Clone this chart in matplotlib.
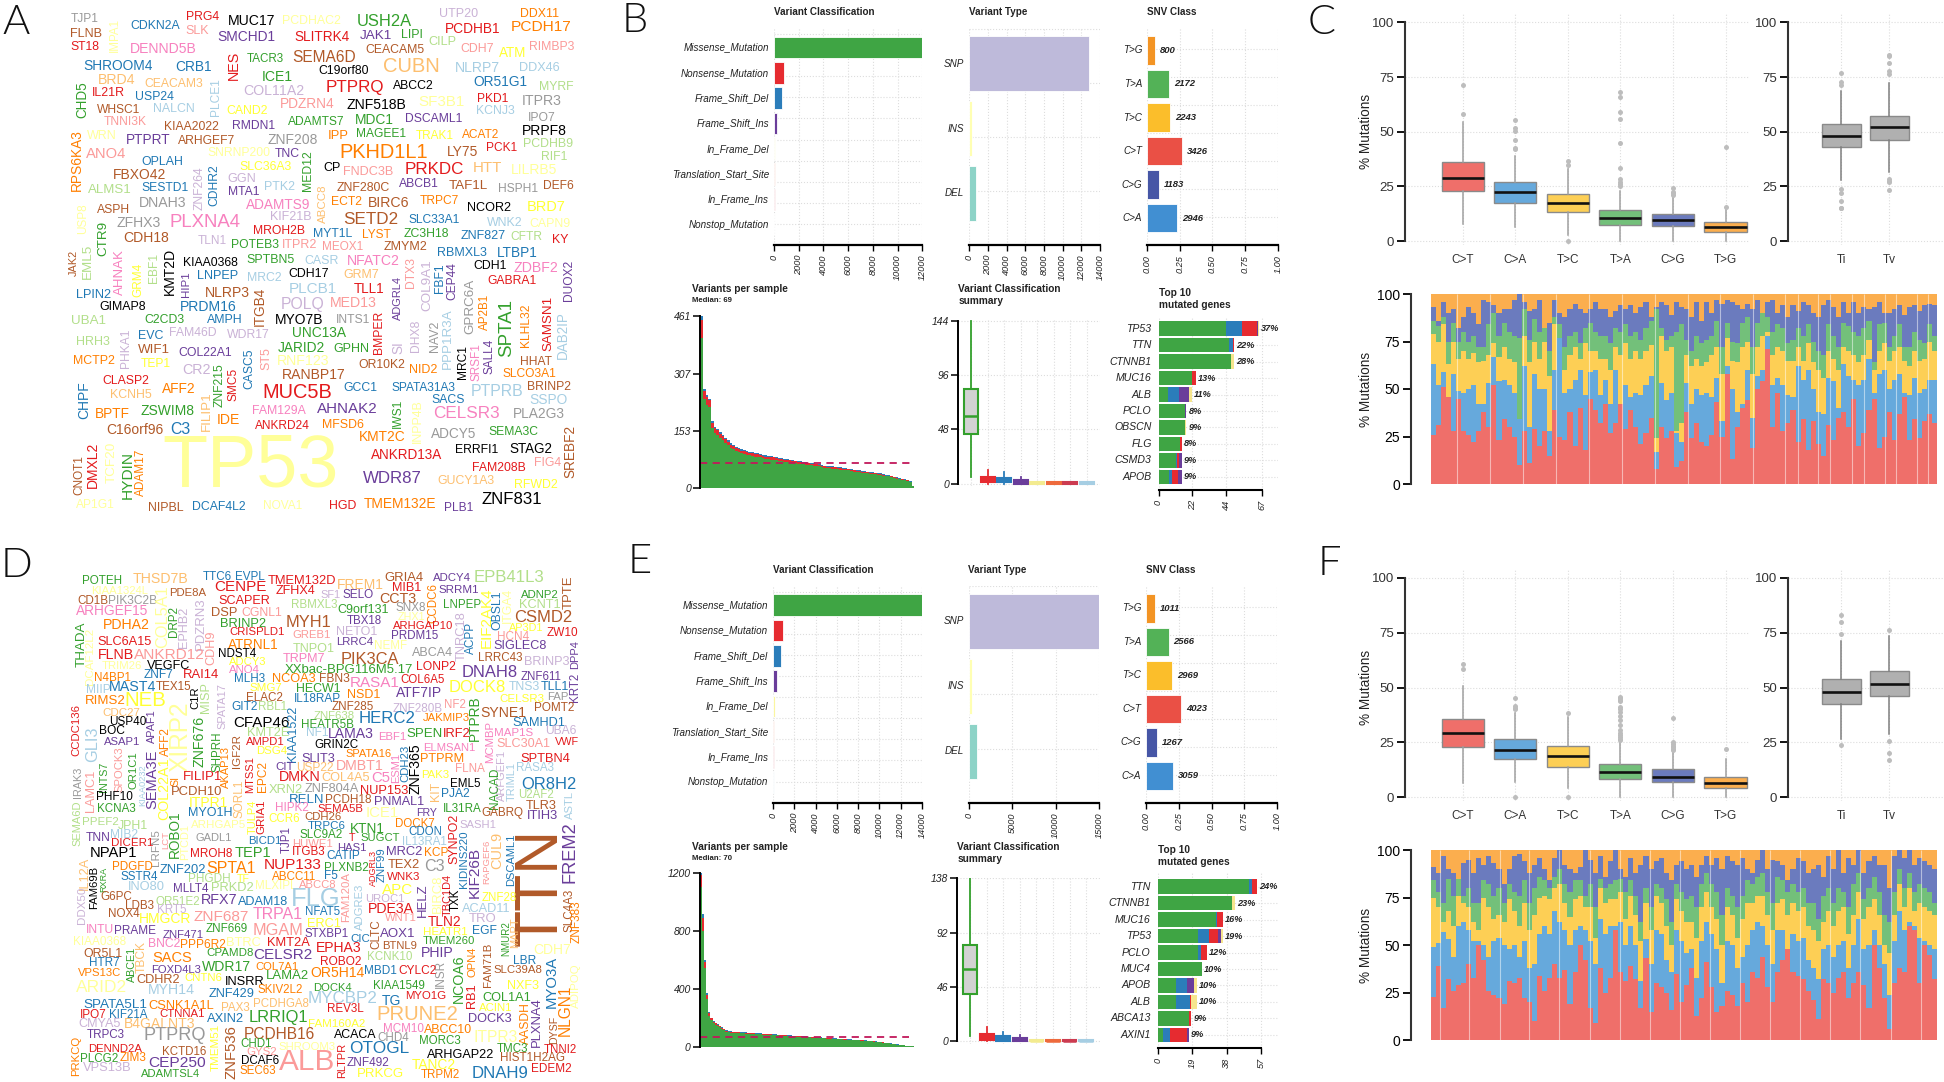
import numpy as np
import matplotlib
matplotlib.use("Agg")
import matplotlib.pyplot as plt
from matplotlib.font_manager import FontProperties
from matplotlib.textpath import TextPath

plt.rcParams["font.family"] = ["Liberation Sans", "DejaVu Sans"]
WIDTH, HEIGHT = 1944, 1082
NARROW = ["Liberation Sans Narrow", "Liberation Sans"]

CLOUD_X = 1568 / 600
MAF_X = 1568 / 680
TITV_X = 1568 / 644

# ---------- word clouds ----------
WORD_COLOURS = {
    "a": "#A6CEE3", "b": "#1F78B4", "c": "#B2DF8A", "d": "#33A02C", "e": "#FB9A99", "f": "#E31A1C",
    "g": "#FDBF6F", "h": "#FF7F00", "i": "#CAB2D6", "j": "#6A3D9A", "k": "#FFFF99", "l": "#B15928",
    "m": "#F781BF", "n": "#999999", "o": "#000000", "p": "#FFFF33",
}

CLOUD_A_GENES = [
    "TJP1", "FLNB", "ST18", "IMPA1", "CDKN2A", "PRG4", "SLK", "MUC17", "SMCHD1", "DENND5B",
    "PCDHAC2", "USH2A", "SLITRK4", "JAK1", "LIPI", "CILP", "UTP20", "PCDHB1", "DDX11", "PCDH17",
    "CDH7", "ATM", "RIMBP3", "NES", "TACR3", "SEMA6D", "CEACAM5", "CUBN", "SHROOM4", "CRB1",
    "C19orf80", "NLRP7", "DDX46", "ICE1", "BRD4", "CEACAM3", "PLCE1", "CHD5", "COL11A2", "PTPRQ",
    "ABCC2", "OR51G1", "MYRF", "IL21R", "USP24", "PDZRN4", "ZNF518B", "SF3B1", "PKD1", "ITPR3",
    "KCNJ3", "WHSC1", "NALCN", "CAND2", "MDC1", "ADAMTS7", "DSCAML1", "IPO7", "TNNI3K", "KIAA2022",
    "RMDN1", "PRPF8", "WRN", "RPS6KA3", "PTPRT", "ARHGEF7", "ZNF208", "IPP", "MAGEE1", "TRAK1",
    "ACAT2", "PCDHB9", "PCK1", "LY75", "PKHD1L1", "ANO4", "OPLAH", "SNRNP200", "TNC", "RIF1",
    "MED12", "HTT", "LILRB5", "CP", "FNDC3B", "PRKDC", "SLC36A3", "CDHR2", "ZNF264", "FBXO42",
    "GGN", "ABCB1", "TAF1L", "DEF6", "HSPH1", "SESTD1", "ALMS1", "MTA1", "PTK2", "ZNF280C",
    "ABCC8", "ECT2", "BIRC6", "TRPC7", "DNAH3", "ASPH", "ADAMTS9", "USP8", "NCOR2", "BRD7",
    "KIF21B", "SETD2", "SLC33A1", "ZFHX3", "PLXNA4", "WNK2", "CAPN9", "CTR9", "MROH2B", "MYT1L",
    "LYST", "ZC3H18", "ZNF827", "CFTR", "KY", "CDH18", "TLN1", "POTEB3", "ITPR2", "MEOX1",
    "ZMYM2", "RBMXL3", "LTBP1", "JAK2", "EML5", "AHNAK", "EBF1", "KMT2D", "KIAA0368", "SPTBN5",
    "CASR", "NFATC2", "DTX3", "COL9A1", "FBF1", "CEP44", "CDH1", "ZDBF2", "DUOX2", "GRM4",
    "HIP1", "LNPEP", "MRC2", "CDH17", "GRM7", "ADGRL4", "GABRA1", "NLRP3", "ITGB4", "PLCB1",
    "TLL1", "LPIN2", "POLQ", "MED13", "GPRC6A", "AP2B1", "SPTA1", "SAMSN1", "KLHL32", "GIMAP8",
    "PRDM16", "UBA1", "C2CD3", "AMPH", "MYO7B", "INTS1", "BMPER", "DHX8", "NAV2", "PPP1R3A",
    "DAB2IP", "EVC", "FAM46D", "WDR17", "UNC13A", "HRH3", "PHKA1", "WIF1", "JARID2", "GPHN",
    "SI", "MRC1", "SRSF1", "SALL4", "COL22A1", "CASC5", "ST5", "MCTP2", "TEP1", "RNF123",
    "OR10K2", "NID2", "HHAT", "CR2", "ZNF215", "SMC5", "RANBP17", "SLCO3A1", "CLASP2", "KCNH5",
    "AFF2", "FILIP1", "MUC5B", "GCC1", "SPATA31A3", "PTPRB", "BRINP2", "SACS", "SSPO", "CHPF",
    "BPTF", "ZSWIM8", "IDE", "FAM129A", "AHNAK2", "IWS1", "INPP4B", "CELSR3", "PLA2G3", "C16orf96",
    "C3", "ANKRD24", "MFSD6", "KMT2C", "ADCY5", "SEMA3C", "SREBF2", "TP53", "ERRFI1", "STAG2",
    "ANKRD13A", "CNOT1", "DMXL2", "TCF20", "HYDIN", "ADAM17", "FAM208B", "FIG4", "WDR87", "GUCY1A3",
    "RFWD2", "AP1G1", "NIPBL", "DCAF4L2", "NOVA1", "HGD", "TMEM132E", "PLB1", "ZNF831",
]
# extents of each word: start, end along its direction, then centre across it
CLOUD_A_SPANS = [
    (185, 255, 55), (185, 265, 98), (185, 258, 138), (55, 150, 300), (342, 470, 75), (488, 572, 50), (484, 544, 90), (597, 716, 60), (570, 718, 107), (342, 512, 142),
    (740, 890, 62), (935, 1076, 63), (770, 912, 107), (942, 1024, 105), (1050, 1102, 102), (1120, 1190, 122), (1150, 1248, 42), (1165, 1306, 85), (1360, 1458, 41), (1338, 1492, 80),
    (1205, 1290, 143), (1305, 1374, 156), (1385, 1500, 138), (150, 230, 610), (645, 740, 173), (765, 928, 168), (955, 1107, 147), (1003, 1145, 193), (218, 397, 192), (460, 552, 195),
    (833, 962, 208), (1192, 1305, 199), (1358, 1460, 200), (686, 762, 224), (258, 352, 233), (380, 530, 245), (232, 338, 564), (238, 342, 216), (638, 794, 266), (855, 1002, 255),
    (1028, 1133, 250), (1238, 1376, 240), (1410, 1497, 253), (243, 325, 271), (354, 452, 284), (732, 872, 305), (907, 1060, 307), (1095, 1212, 298), (1248, 1326, 288), (1365, 1465, 296),
    (1246, 1343, 323), (255, 367, 322), (403, 508, 318), (593, 698, 324), (930, 1027, 350), (753, 900, 356), (1060, 1205, 347), (1382, 1450, 344), (271, 382, 357), (430, 568, 370),
    (607, 716, 368), (1365, 1478, 382), (228, 303, 398), (380, 556, 200), (330, 442, 408), (465, 613, 413), (702, 830, 408), (858, 908, 396), (933, 1060, 390), (1087, 1184, 398),
    (1208, 1304, 393), (1368, 1495, 421), (1273, 1350, 431), (1170, 1247, 445), (890, 1115, 444), (226, 330, 450), (372, 478, 472), (545, 706, 448), (720, 784, 450), (1415, 1480, 459),
    (440, 555, 804), (1237, 1310, 491), (1338, 1455, 497), (846, 888, 492), (898, 1025, 503), (1060, 1210, 495), (628, 762, 489), (482, 600, 559), (488, 612, 521), (297, 432, 511),
    (597, 668, 524), (1043, 1145, 537), (1175, 1275, 544), (1422, 1498, 542), (1303, 1404, 553), (372, 492, 548), (230, 342, 555), (597, 675, 560), (693, 770, 547), (880, 1018, 548),
    (540, 650, 845), (867, 944, 590), (964, 1068, 594), (1097, 1198, 587), (365, 485, 593), (254, 338, 612), (644, 810, 598), (596, 682, 216), (1222, 1333, 608), (1380, 1476, 604),
    (708, 813, 635), (900, 1040, 640), (1068, 1200, 642), (305, 418, 651), (445, 626, 650), (1273, 1365, 652), (1385, 1490, 654), (646, 745, 270), (664, 795, 675), (820, 920, 682),
    (948, 1020, 685), (1055, 1172, 683), (1205, 1320, 688), (1335, 1416, 692), (1445, 1485, 702), (323, 440, 694), (518, 592, 703), (607, 728, 716), (740, 828, 716), (843, 947, 721),
    (1003, 1115, 721), (1145, 1272, 740), (1300, 1403, 738), (730, 805, 193), (715, 813, 230), (727, 860, 313), (742, 825, 403), (728, 860, 443), (480, 620, 768), (645, 768, 760),
    (798, 885, 762), (910, 1043, 762), (752, 838, 1075), (758, 905, 1116), (770, 852, 1150), (768, 876, 1182), (1238, 1322, 777), (1343, 1457, 782), (762, 878, 1488), (768, 865, 361),
    (795, 865, 487), (516, 620, 807), (648, 735, 812), (754, 857, 799), (898, 988, 802), (807, 935, 1040), (1275, 1400, 820), (537, 650, 856), (840, 950, 680), (757, 878, 843),
    (926, 1004, 843), (200, 288, 860), (736, 845, 890), (865, 984, 885), (815, 975, 1228), (858, 962, 1268), (876, 1040, 1325), (865, 1022, 1434), (888, 1010, 1375), (260, 379, 896),
    (473, 617, 897), (188, 275, 938), (378, 480, 933), (541, 632, 935), (720, 842, 933), (880, 965, 935), (910, 1032, 990), (935, 1025, 1086), (938, 1025, 1137), (902, 1075, 1170),
    (910, 1045, 1471), (361, 424, 980), (444, 565, 973), (595, 705, 978), (765, 904, 973), (200, 285, 998), (962, 1072, 330), (362, 444, 1021), (727, 849, 1015), (874, 964, 1020),
    (998, 1030, 1040), (1010, 1105, 1210), (1003, 1110, 1245), (992, 1092, 1279), (468, 605, 1032), (1020, 1135, 652), (1015, 1078, 695), (192, 298, 1055), (368, 444, 1063), (726, 859, 1055),
    (938, 1058, 1067), (1072, 1142, 1080), (1362, 1442, 1056), (478, 549, 1080), (1062, 1188, 574), (1075, 1168, 610), (740, 902, 1095), (1313, 1452, 1092), (270, 390, 1113), (288, 394, 1153),
    (424, 510, 1137), (1145, 1255, 541), (690, 866, 1147), (900, 986, 1134), (1023, 1188, 1134), (1232, 1365, 1143), (1380, 1492, 1130), (1130, 1214, 1168), (1386, 1483, 1167), (1115, 1222, 220),
    (250, 337, 1210), (368, 507, 1199), (570, 626, 1226), (661, 799, 1201), (830, 986, 1195), (1167, 1248, 1040), (1168, 1292, 1092), (1134, 1304, 1208), (1342, 1474, 1208), (280, 426, 1255),
    (447, 496, 1255), (667, 810, 1244), (844, 950, 1240), (940, 1057, 1277), (1126, 1243, 1268), (1278, 1406, 1262), (1244, 1395, 1490), (430, 878, 1365), (1190, 1300, 1313), (1332, 1442, 1311),
    (968, 1155, 1330), (1332, 1445, 208), (1292, 1422, 243), (1292, 1410, 291), (1320, 1453, 333), (1312, 1448, 369), (1236, 1373, 1368), (1397, 1465, 1352), (950, 1102, 1397), (1145, 1292, 1405),
    (1345, 1456, 1415), (200, 300, 1475), (388, 478, 1482), (503, 640, 1480), (688, 787, 1478), (862, 930, 1478), (953, 1140, 1473), (1163, 1235, 1482), (1260, 1415, 1460),
]
CLOUD_A_COLOURS = "".join([
    "nlfkbfeojm", "kdfjdcifhh", "epefdllgbb", "oaadggadif", "obcfbeokfn", "alapddjnel",
    "jokhjlnhdp", "hcflhebkjc", "dgkoefpbil", "ijllnbcjal", "ghlhnlmkop", "ilbnmakdfb",
    "hdbcflidee", "lbblcmcood", "ameibjomjp", "jbaogjflla", "fbienhdfho", "bcdbonfina",
    "abiidcildd", "iomjjbehpk", "lhlidflhfg", "hgfbbalbab", "hdhmjdkmnl", "bfhhndlkoo",
    "flfkdhfejg", "pklbkfhjo",
])
CLOUD_A_UPRIGHT = {
    "IMPA1", "NES", "PLCE1", "CHD5", "RPS6KA3", "MED12", "CDHR2", "ZNF264", "ABCC8", "USP8", "CTR9", "JAK2", "EML5",
    "AHNAK", "EBF1", "KMT2D", "DTX3", "COL9A1", "FBF1", "CEP44", "DUOX2", "GRM4", "HIP1", "ADGRL4", "ITGB4", "GPRC6A",
    "AP2B1", "SPTA1", "SAMSN1", "KLHL32", "BMPER", "DHX8", "NAV2", "PPP1R3A", "DAB2IP", "PHKA1", "SI", "MRC1", "SRSF1",
    "SALL4", "CASC5", "ST5", "ZNF215", "SMC5", "FILIP1", "CHPF", "IWS1", "INPP4B", "SREBF2", "CNOT1", "DMXL2", "TCF20",
    "HYDIN", "ADAM17",
}

CLOUD_D_GENES = [
    "POTEH", "THSD7B", "TTC6", "EVPL", "CENPE", "TMEM132D", "FREM1", "GRIA4", "MIB1", "ADCY4",
    "EPB41L3", "TPTE", "KIAA1324L", "PDE8A", "ZFHX4", "SF1", "SELO", "CCDC6", "SRRM1", "CD1B",
    "PIK3C2B", "COL5A1", "SCAPER", "RBMXL3", "CCT3", "LNPEP", "ADNP2", "KCNT1", "ARHGEF15", "DRP2",
    "EPHB2", "PDZRN3", "DSP", "CGNL1", "C9orf131", "SNX8", "OBSL1", "EIF2AK4", "ITGA4", "CSMD2",
    "ZHX1", "TNRC18", "ACPP", "AP3D1", "ZW10", "PDHA2", "BRINP2", "MYH1", "TBX18", "ARHGAP10",
    "CRISPLD1", "GREB1", "NETO1", "PRDM15", "THADA", "DCAF12L2", "CDH9", "SLC6A15", "ATRNL1", "LRRC4",
    "NEMF", "HCN4", "SIGLEC8", "DPP4", "FLNB", "ANKRD12", "NDST4", "TNPO1", "PIK3CA", "ABCA4",
    "ADCY3", "TRPM7", "LONP2", "LRRC43", "BRINP3", "TRIM26", "VEGFC", "XXbac-BPG116M5.17", "DNAH8", "KRT2",
    "N4BP1", "ZNF7", "RAI14", "ANO4", "MLH3", "NCOA3", "FBN3", "RASA1", "COL6A5", "ZNF611",
    "MIIP", "MAST4", "TEX15", "C1R", "MISP", "SPATA17", "SMG7", "HECW1", "NSD1", "ATF7IP",
    "DOCK8", "TNS3", "TLL1", "RIMS2", "NEB", "ELAC2", "IL18RAP", "CELSR3", "FAP", "NF2",
    "GIT2", "RBL1", "ZNF285", "ZNF280B", "JAKMIP3", "PTPRB", "POMT2", "SYNE1", "CCDC136", "CDC27",
    "XIRP2", "APAF1", "USP40", "BOC", "ZNF676", "CFAP46", "ZNF638", "KIAA1522", "HERC2", "HEATR5B",
    "SAMHD1", "UBA6", "GLI3", "AFF2", "SHPRH", "KMT2E", "NF1", "LAMA3", "EBF1", "SPEN",
    "IRF2", "MCMBP", "MAP1S", "ASAP1", "SEMA3E", "AMPD1", "DSG4", "GRIN2C", "CDH23", "ZNF365",
    "ELMSAN1", "SLC30A1", "VWF", "SPOCK3", "OR1C1", "AKAP13", "IGF2R", "SPATA16", "PTPRM", "SPTBN4",
    "ARFGEF1", "COL22A1", "MTSS1", "EPC2", "SLIT3", "CIT", "USP22", "DMBT1", "ESM1", "FLNA",
    "RASA3", "IRAK3", "INTS7", "KIAA0232", "SI", "SORL1", "LAMC1", "NACAD", "TRIML1", "OR8H2",
    "PAK3", "C5", "COL4A5", "DMKN", "FILIP1", "XRN2", "ZNF804A", "NUP153", "KIT", "EML5",
    "PJA2", "PHF10", "PCDH10", "RELN", "PCDH18", "PNMAL1", "U2AF2", "ASTL", "SEMA6D", "ROBO1",
    "KCNA3", "TULP4", "GRIA1", "MYO1H", "HIPK2", "SEMA5B", "ICE1", "FRY", "IL31RA", "GABRQ",
    "TLR3", "ITIH3", "SYNPO2", "PPEF2", "JPH1", "ARHGAP5", "CCR6", "CDH26", "KTN1", "DOCK7",
    "SASH1", "TRPC6", "LRFN5", "TJP1", "PTCD1", "CUL9", "KIDINS220", "FREM2", "DSCAML1", "TTN",
    "TNN", "MIB2", "LCT", "GADL1", "SLC9A2", "T", "SUGCT", "CDON", "IL13RA1", "BICD1",
    "HUWE1", "DICER1", "RAPGEF6", "HAS1", "MRC2", "KCP", "ADGRL3", "ZNF99", "KIF26B", "NPAP1",
    "TEP1", "MROH8", "ITGB3", "CATIP", "IL12A", "RXRA", "FAM69B", "PDGFD", "SPTA1", "NUP133",
    "PLXNB2", "TEX2", "C3", "ZNF202", "WNK3", "SSTR4", "PHGDH", "TF", "ABCC11", "F5",
    "FAM120A", "BIRC8", "TBC1D4", "ZNF28", "INO80", "APC", "MLXIPL", "ABCC8", "ADGRE3", "TXK",
    "MLLT4", "PRKD2", "HELZ", "RFX7", "ADAM18", "FLG", "UROC1", "G6PC", "OR51E2", "DDX50",
    "ACAD11", "LDB3", "SLC4A3", "ZNF383", "KRT5", "PDE3A", "NOX4", "HMGCR", "ZNF687", "TRPA1",
    "NFAT5", "WNT1", "TRO", "TLN2", "ERC1", "CLTC", "AOX1", "MAPT", "NMUR2", "INTU",
    "PRAME", "ZNF669", "ZNF471", "MGAM", "STXBP1", "HEATR1", "EGF", "CIC", "KIAA0368", "BNC2",
    "PPP6R2", "BTRC", "KMT2A", "TMEM260", "BTNL9", "EPHA3", "CDH7", "OR5L1", "TBCK", "ABCE1",
    "CPAMD8", "CELSR2", "KCNK10", "PHIP", "FAM71B", "HTR7", "SACS", "LBR", "OPN4", "INSR",
    "MYO3A", "FOXD4L3", "WDR17", "COL7A1", "ROBO2", "SLC39A8", "NCOA6", "VPS13C", "CDHR2", "CNTN6",
    "LAMA2", "OR5H14", "MBD1", "CYLC2", "ADIPOQ", "INSRR", "ARID2", "DOCK4", "KIAA1549", "NXF3",
    "MYH14", "ZNF429", "SKIV2L2", "MYCBP2", "MYO1G", "RB1", "COL1A1", "TG", "NLGN1", "SPATA5L1",
    "CSNK1A1L", "PCDHGA8", "LRRIQ1", "REV3L", "PRUNE2", "ACIN1", "PLXNA4", "AASDH", "IPO7", "KIF21A",
    "CTNNA1", "PAX3", "AXIN2", "DYSF", "CMYA5", "B4GALNT3", "FAM160A2", "DOCK3", "TRPC3", "PTPRQ",
    "MCM10", "ABCC10", "ITPR3", "TMEM51", "ZNF536", "PCDHB16", "ACACA", "CHD4", "MORC3", "PRKCQ",
    "CHD1", "SHROOM3", "RLTPR", "OTOGL", "TMC3", "TNNI2", "DENND2A", "KCTD16", "GYS2", "PLCG2",
    "ZIM3", "ARHGAP22", "HIST1H2AG", "VPS13B", "CEP250", "DCAF6", "ALB", "ZNF492", "TANC2", "EDEM2",
    "ADAMTSL4", "SEC63", "PRKCG", "TRPM2", "DNAH9", "ITPR1",
]
CLOUD_D_SPANS = [
    (217, 317, 90), (347, 490, 86), (532, 606, 80), (616, 690, 80), (561, 695, 108), (701, 878, 92), (882, 1000, 102), (1005, 1104, 82), (1025, 1098, 112), (1132, 1230, 83),
    (1240, 1420, 82), (78, 174, 1487), (240, 385, 122), (443, 538, 126), (720, 822, 122), (838, 888, 134), (895, 974, 134), (98, 212, 1133), (1148, 1250, 119), (204, 282, 149),
    (284, 408, 150), (108, 288, 425), (572, 705, 150), (762, 880, 163), (993, 1087, 146), (1160, 1255, 163), (1362, 1460, 132), (1358, 1463, 163), (199, 388, 180), (168, 255, 456),
    (170, 287, 481), (142, 292, 525), (553, 618, 186), (631, 735, 185), (884, 1015, 178), (1035, 1112, 172), (122, 235, 1300), (114, 288, 1272), (115, 215, 1328), (1346, 1494, 200),
    (1040, 1110, 197), (180, 325, 1207), (212, 305, 1232), (1332, 1421, 230), (1430, 1510, 244), (270, 388, 222), (578, 695, 218), (750, 863, 213), (908, 998, 208), (1027, 1183, 225),
    (600, 742, 243), (765, 862, 251), (881, 985, 242), (1025, 1144, 253), (212, 345, 213), (232, 395, 236), (240, 338, 553), (255, 395, 270), (596, 727, 279), (881, 975, 270),
    (980, 1062, 283), (1302, 1382, 257), (1291, 1428, 283), (268, 350, 1504), (258, 348, 310), (351, 535, 311), (571, 667, 307), (767, 875, 292), (892, 1042, 322), (1077, 1183, 303),
    (600, 697, 331), (741, 850, 321), (1090, 1190, 346), (1252, 1365, 320), (1371, 1487, 331), (266, 370, 341), (385, 497, 341), (746, 1080, 353), (1209, 1350, 360), (365, 447, 1503),
    (248, 340, 377), (377, 452, 370), (481, 572, 368), (600, 680, 355), (613, 690, 381), (713, 824, 380), (836, 912, 380), (917, 1042, 391), (1049, 1162, 383), (1362, 1466, 374),
    (226, 286, 412), (287, 407, 404), (409, 500, 405), (405, 468, 511), (393, 480, 539), (393, 526, 581), (655, 737, 408), (775, 888, 410), (909, 992, 428), (1036, 1154, 422),
    (1174, 1318, 405), (1330, 1410, 405), (1413, 1485, 403), (225, 326, 444), (330, 432, 444), (645, 737, 436), (771, 889, 439), (1308, 1422, 440), (1431, 1483, 433), (1163, 1216, 456),
    (606, 672, 464), (676, 748, 463), (868, 975, 464), (1027, 1155, 468), (1106, 1228, 495), (430, 560, 1242), (1398, 1500, 466), (1258, 1375, 481), (455, 605, 200), (270, 365, 480),
    (448, 652, 472), (470, 568, 398), (286, 380, 506), (260, 324, 533), (492, 640, 521), (610, 754, 510), (822, 927, 489), (460, 622, 767), (940, 1083, 498), (790, 924, 516),
    (1340, 1476, 511), (1426, 1504, 535), (522, 622, 243), (522, 606, 433), (538, 653, 568), (648, 755, 541), (801, 855, 541), (860, 975, 543), (990, 1060, 552), (1065, 1155, 543),
    (1160, 1228, 543), (505, 625, 1281), (1293, 1391, 540), (274, 367, 566), (590, 762, 398), (643, 743, 567), (672, 750, 592), (823, 935, 576), (575, 682, 1060), (572, 718, 1087),
    (1107, 1240, 585), (1300, 1438, 572), (1452, 1514, 566), (580, 712, 312), (595, 702, 348), (580, 702, 590), (545, 640, 620), (903, 1022, 601), (1101, 1212, 618), (1362, 1490, 616),
    (590, 740, 1312), (615, 795, 430), (610, 715, 653), (625, 712, 688), (789, 875, 616), (722, 768, 640), (776, 870, 642), (880, 1000, 638), (600, 685, 1035), (1190, 1265, 647),
    (1350, 1446, 643), (640, 728, 203), (626, 710, 273), (635, 755, 372), (670, 695, 458), (680, 790, 625), (652, 772, 238), (645, 762, 1293), (625, 738, 1338), (1364, 1504, 692),
    (1102, 1172, 665), (972, 1018, 674), (840, 965, 672), (731, 835, 670), (481, 579, 670), (703, 790, 707), (796, 937, 705), (942, 1065, 710), (685, 738, 1140), (1178, 1254, 691),
    (1155, 1226, 719), (252, 344, 730), (448, 578, 714), (758, 845, 737), (851, 968, 738), (978, 1106, 743), (1356, 1446, 722), (710, 792, 1490), (740, 872, 203), (770, 905, 456),
    (256, 353, 764), (738, 838, 660), (738, 836, 684), (494, 605, 775), (722, 806, 762), (830, 948, 764), (958, 1040, 777), (1090, 1142, 775), (1160, 1258, 765), (1260, 1367, 776),
    (1376, 1455, 755), (1380, 1458, 786), (780, 925, 1187), (216, 307, 803), (310, 387, 814), (500, 642, 810), (703, 782, 795), (797, 892, 789), (917, 1003, 822), (1035, 1135, 807),
    (1202, 1296, 812), (806, 902, 815), (825, 928, 408), (815, 892, 750), (810, 912, 484), (835, 940, 1300), (830, 995, 1212), (805, 980, 1490), (840, 990, 1336), (830, 1160, 1415),
    (226, 287, 850), (289, 358, 840), (830, 880, 433), (513, 606, 851), (785, 895, 840), (912, 928, 851), (942, 1043, 849), (1070, 1155, 832), (1052, 1165, 860), (651, 735, 857),
    (765, 868, 866), (292, 398, 865), (858, 985, 1272), (883, 956, 880), (1011, 1102, 890), (1110, 1170, 893), (885, 990, 975), (878, 978, 997), (880, 1025, 1241), (238, 357, 895),
    (615, 708, 893), (498, 605, 897), (766, 850, 892), (855, 940, 904), (905, 1000, 223), (935, 1008, 272), (935, 1058, 246), (295, 398, 936), (542, 668, 941), (691, 838, 928),
    (850, 962, 938), (1015, 1097, 928), (1110, 1160, 934), (418, 537, 943), (1013, 1098, 964), (316, 412, 966), (494, 600, 972), (620, 652, 972), (713, 827, 964), (848, 880, 963),
    (952, 1096, 905), (960, 1068, 1145), (955, 1078, 1170), (1260, 1350, 1026), (335, 428, 993), (1000, 1080, 1002), (668, 773, 991), (781, 878, 988), (985, 1120, 942), (1000, 1065, 1192),
    (455, 544, 999), (552, 660, 998), (985, 1080, 1105), (527, 618, 1032), (621, 752, 1037), (766, 885, 1030), (957, 1056, 1031), (265, 345, 1023), (408, 522, 1037), (995, 1100, 213),
    (1207, 1332, 1058), (328, 400, 1049), (1000, 1125, 1487), (1035, 1158, 1508), (413, 486, 1063), (962, 1080, 1060), (284, 363, 1075), (365, 498, 1090), (508, 650, 1082), (662, 790, 1075),
    (798, 886, 1068), (1006, 1088, 1086), (1225, 1295, 1088), (1120, 1205, 1098), (803, 888, 1104), (1090, 1175, 983), (995, 1086, 1133), (1085, 1172, 1345), (1095, 1195, 1322), (227, 295, 1120),
    (301, 406, 1124), (539, 647, 1118), (425, 530, 1135), (665, 790, 1123), (797, 910, 1132), (1108, 1220, 1127), (1236, 1297, 1125), (916, 965, 1147), (192, 326, 1157), (388, 468, 1161),
    (472, 587, 1164), (592, 680, 1158), (699, 808, 1160), (1105, 1240, 1153), (1000, 1088, 1168), (827, 942, 1175), (1395, 1490, 1180), (218, 318, 1192), (1155, 1248, 370), (1172, 1275, 345),
    (540, 660, 1190), (664, 815, 1194), (962, 1077, 1202), (1102, 1183, 1190), (1160, 1285, 1276), (235, 310, 1219), (399, 500, 1205), (1343, 1400, 1211), (1172, 1260, 1236), (1212, 1290, 1153),
    (1200, 1350, 1443), (396, 523, 1238), (530, 656, 1230), (670, 780, 1230), (838, 943, 1214), (1290, 1415, 1238), (1197, 1335, 1198), (205, 317, 1249), (358, 470, 1269), (484, 580, 1264),
    (698, 806, 1258), (812, 952, 1247), (953, 1034, 1241), (1043, 1140, 1241), (1220, 1350, 1505), (590, 690, 1273), (199, 330, 1292), (820, 918, 1291), (976, 1108, 1285), (1328, 1408, 1285),
    (388, 507, 1298), (546, 664, 1310), (674, 790, 1298), (808, 985, 1323), (1062, 1165, 1315), (1282, 1350, 1233), (1262, 1386, 1322), (1000, 1047, 1330), (1283, 1430, 1477), (219, 382, 1341),
    (388, 557, 1345), (663, 805, 1340), (652, 802, 1380), (855, 948, 1354), (987, 1195, 1369), (1252, 1338, 1350), (1322, 1465, 1404), (1335, 1455, 1375), (211, 277, 1371), (287, 385, 1371),
    (419, 535, 1370), (578, 650, 1352), (541, 637, 1385), (1375, 1455, 1447), (205, 313, 1399), (325, 508, 1397), (808, 952, 1399), (1225, 1336, 1384), (227, 325, 1431), (378, 535, 1432),
    (1002, 1105, 1412), (1108, 1233, 1415), (1240, 1350, 1438), (1400, 1535, 563), (1405, 1560, 605), (640, 822, 1428), (874, 985, 1431), (988, 1068, 1440), (1097, 1202, 1447), (1435, 1550, 199),
    (631, 710, 1457), (728, 876, 1465), (1455, 1555, 893), (915, 1068, 1470), (1300, 1380, 1471), (1423, 1508, 1474), (230, 370, 1473), (426, 538, 1480), (645, 722, 1482), (212, 308, 1501),
    (314, 382, 1500), (1117, 1292, 1491), (1310, 1475, 1500), (217, 342, 1528), (390, 537, 1514), (632, 728, 1507), (730, 873, 1510), (908, 1016, 1512), (1077, 1190, 1520), (1390, 1492, 1530),
    (368, 522, 1545), (627, 720, 1537), (935, 1053, 1545), (1100, 1200, 1550), (1235, 1378, 1545), (495, 593, 747),
]
CLOUD_D_COLOURS = "".join([
    "dgbbffglfj", "clklfijhjl", "nkfclddcmd", "iilednbpkl", "kibpfhdljf", "feijdkefhj", "kejjfeocln",
    "pmflikodjj", "hbfmbhlmfj", "ablocipdhj", "pabhplbpne", "bclihdllfg", "kjoodocbbd", "biahdcajmd",
    "fmmjjfpobo", "mefedhlhhf", "ipfhjjgeme", "andahgedab", "pmgffcnfgo", "bolbljcacd", "dpfbmfkjdl",
    "ljfcckpldh", "ibnjkgbjbl", "jaendfdbab", "efejjhfbjo", "dffbgdohhf", "dlnbfbcphb", "ekfpapkeao",
    "jcjjbailci", "allhiflpem", "beifpljgdm", "jdjejpbbkm", "hkfdlfklgd", "djcjlbhbhn", "bjdhfldhlp",
    "dhbfkokddp", "abhaffdbhb", "hgdfgpjhfb", "fgbligpjjn", "mhkpllondh", "dkfbdffled", "holijoejpf",
    "dhphbp",
])
CLOUD_D_UPRIGHT = {
    "TPTE", "CCDC6", "COL5A1", "DRP2", "EPHB2", "PDZRN3", "OBSL1", "EIF2AK4", "ITGA4", "TNRC18", "ACPP", "THADA", "DCAF12L2",
    "CDH9", "DPP4", "KRT2", "C1R", "MISP", "SPATA17", "PTPRB", "CCDC136", "XIRP2", "APAF1", "ZNF676", "KIAA1522", "GLI3", "AFF2",
    "SHPRH", "MCMBP", "SEMA3E", "CDH23", "ZNF365", "SPOCK3", "OR1C1", "AKAP13", "IGF2R", "ARFGEF1", "COL22A1", "MTSS1", "EPC2",
    "ESM1", "IRAK3", "INTS7", "KIAA0232", "SI", "SORL1", "LAMC1", "NACAD", "TRIML1", "KIT", "ASTL", "SEMA6D", "ROBO1", "TULP4",
    "GRIA1", "SYNPO2", "LRFN5", "TJP1", "PTCD1", "CUL9", "KIDINS220", "FREM2", "DSCAML1", "TTN", "LCT", "RAPGEF6", "ADGRL3",
    "ZNF99", "KIF26B", "IL12A", "RXRA", "FAM69B", "FAM120A", "BIRC8", "TBC1D4", "ADGRE3", "TXK", "HELZ", "DDX50", "SLC4A3",
    "ZNF383", "CLTC", "MAPT", "NMUR2", "TBCK", "ABCE1", "FAM71B", "OPN4", "INSR", "MYO3A", "NCOA6", "ADIPOQ", "RB1", "NLGN1",
    "PLXNA4", "AASDH", "DYSF", "TMEM51", "ZNF536", "PRKCQ", "RLTPR",
}

# ---------- maftools summaries ----------
VC_LABELS = ["Missense_Mutation", "Nonsense_Mutation", "Frame_Shift_Del", "Frame_Shift_Ins",
             "In_Frame_Del", "Translation_Start_Site", "In_Frame_Ins", "Nonstop_Mutation"]
VC_COLOURS = ["#3FA544", "#E62B30", "#2B7DBA", "#6A3D9A", "#FBF6A0", "#F2896E", "#DC5A6C", "#CFE3F0"]
VT_LABELS = ["SNP", "INS", "DEL"]
VT_COLOURS = ["#BEBADA", "#FFFFB3", "#8DD3C7"]
SNV_LABELS = ["T>G", "T>A", "T>C", "C>T", "C>G", "C>A"]
SNV_COLOURS = ["#F39424", "#53B257", "#FBBE2B", "#EA5045", "#4656A6", "#418FD2"]

B_VC = [12000, 800, 620, 240, 100, 60, 50, 20]
B_VC_TICKS = [0, 2000, 4000, 6000, 8000, 10000, 12000]
B_VT = [12840, 320, 790]
B_VT_TICKS = [0, 2000, 4000, 6000, 8000, 10000, 12000, 14000]
B_SNV = [800, 2172, 2243, 3426, 1183, 2946]

E_VC = [14000, 940, 775, 330, 160, 80, 80, 60]
E_VC_TICKS = [0, 2000, 4000, 6000, 8000, 10000, 12000, 14000]
E_VT = [15000, 400, 1000]
E_VT_TICKS = [0, 5000, 10000, 15000]
E_SNV = [1011, 2566, 2969, 4023, 1267, 3059]

# samples sorted by load, one bar per group of samples
B_SAMPLE_TOTAL = [461, 266, 250, 240, 180, 165, 160, 150, 143, 135, 128, 120, 115, 110, 107, 104, 102, 100, 98, 97,
                  95, 94, 92, 90, 88, 87, 86, 85, 84, 82, 80, 79, 78, 77, 76, 74, 73, 72, 71, 70,
                  69, 68, 67, 66, 65, 63, 61, 60, 60, 59, 58, 57, 56, 55, 54, 53, 52, 50, 49, 48,
                  47, 46, 45, 44, 43, 42, 41, 40, 38, 36, 35, 33, 31, 29, 27, 26, 24, 22, 19, 6]
B_SAMPLE_RED = [50, 20, 20, 18, 14, 14, 12, 12, 10, 10, 10, 9, 8, 8, 8, 7, 7, 8, 6, 7,
                7, 6, 6, 7, 6, 6, 6, 7, 5, 6, 6, 6, 5, 5, 6, 4, 5, 5, 4, 5,
                4, 4, 5, 4, 4, 4, 4, 4, 3, 4, 3, 3, 4, 3, 3, 3, 3, 3, 3, 3,
                3, 3, 2, 3, 2, 2, 3, 2, 2, 2, 2, 2, 2, 2, 1, 2, 1, 1, 1, 0]
B_SAMPLE_BLUE = [10, 6, 6, 5, 5, 4, 4, 4, 4, 3, 3, 3, 3, 3, 3, 3, 3, 3, 3, 3,
                 3, 3, 3, 3, 3, 3, 3, 2, 3, 3, 2, 3, 2, 2, 3, 2, 2, 2, 2, 2,
                 2, 2, 2, 2, 2, 2, 2, 2, 2, 2, 2, 2, 2, 2, 2, 2, 2, 2, 2, 2,
                 2, 2, 2, 2, 2, 2, 2, 2, 2, 2, 1, 1, 1, 1, 1, 1, 1, 1, 1, 0]
E_SAMPLE_TOTAL = [1200, 920, 600, 370, 240, 200, 175, 165, 155, 145, 135, 125, 112, 108, 106, 105, 104, 103, 102, 101,
                  100, 99, 98, 97, 96, 95, 94, 93, 92, 91, 90, 89, 88, 87, 86, 85, 84, 83, 82, 81,
                  80, 79, 78, 77, 76, 75, 74, 73, 72, 71, 70, 69, 68, 67, 66, 65, 64, 63, 62, 61,
                  60, 59, 58, 57, 56, 55, 54, 53, 52, 51, 50, 49, 48, 47, 46, 45, 44, 43, 42, 41,
                  40, 38, 36, 34, 32, 30, 28, 26, 24, 22, 20, 18, 16, 14, 12, 10, 8, 6, 4, 2]
E_SAMPLE_RED = [80, 90, 40, 30, 20, 12, 10, 9, 9, 8, 8, 7, 7, 6, 6, 6, 6, 6, 5, 5,
                5, 5, 5, 5, 5, 5, 5, 4, 4, 4, 4, 4, 4, 4, 4, 4, 4, 4, 4, 4,
                4, 4, 4, 3, 3, 3, 3, 3, 3, 3, 3, 3, 3, 3, 3, 3, 3, 3, 3, 3,
                3, 3, 3, 3, 2, 2, 2, 2, 2, 2, 2, 2, 2, 2, 2, 2, 2, 2, 2, 2,
                2, 2, 2, 1, 1, 1, 1, 1, 1, 1, 1, 1, 1, 1, 0, 0, 0, 0, 0, 0]
E_SAMPLE_BLUE = [12, 30, 12, 10, 6, 4, 4, 4, 4, 3, 3, 3, 3, 3, 3, 3, 3, 3, 3, 3,
                 3, 3, 3, 3, 3, 3, 3, 3, 3, 3, 2, 2, 2, 2, 2, 2, 2, 2, 2, 2,
                 2, 2, 2, 2, 2, 2, 2, 2, 2, 2, 2, 2, 2, 2, 2, 2, 2, 2, 2, 2,
                 2, 2, 2, 2, 2, 2, 2, 2, 2, 2, 1, 1, 1, 1, 1, 1, 1, 1, 1, 1,
                 1, 1, 1, 1, 1, 1, 1, 1, 1, 1, 1, 1, 1, 1, 1, 1, 0, 0, 0, 0]

SUMMARY_COLOURS = ["#33A02C", "#E62B30", "#2B7DBA", "#6A3D9A", "#F3EB90", "#EE6A3C", "#CC3B50", "#A6CEE3"]
B_SUM_LOW = [6, 0, 0, 0, 0, 0, 0, 0]
B_SUM_Q1 = [44, 1.5, 1.5, 0, 0, 0, 0, 0]
B_SUM_MED = [60, 4, 3.5, 1.5, 0.5, 0.5, 0.5, 0.5]
B_SUM_Q3 = [84, 6, 5.5, 3, 1.5, 1.5, 1.5, 1.5]
B_SUM_HIGH = [144, 12, 10, 5.6, 1.5, 1.5, 1.5, 1.5]
E_SUM_LOW = [4.5, 0, 0, 0, 0, 0, 0, 0]
E_SUM_Q1 = [40, 1, 0.5, 0, 0, 0, 0, 0]
E_SUM_MED = [61, 3.5, 2.5, 1, 0.5, 0.5, 0.5, 0.5]
E_SUM_Q3 = [82, 6.2, 4.5, 2.5, 1.5, 1.5, 1.5, 1.5]
E_SUM_HIGH = [138, 12, 8, 5.4, 1.5, 1.5, 1.5, 1.5]

# top 10 genes, stacked by class: missense, frame del, nonsense, frame ins, in frame
TOP_COLOURS = ["#3FA544", "#2B7DBA", "#E62B30", "#6A3D9A", "#F6E58D"]
B_TOP_GENES = ["TP53", "TTN", "CTNNB1", "MUC16", "ALB", "PCLO", "OBSCN", "FLG", "CSMD3", "APOB"]
B_TOP_PCT = ["37%", "22%", "28%", "13%", "11%", "8%", "9%", "8%", "9%", "9%"]
B_TOP_MISSENSE = [44, 45.6, 47.3, 22, 6.2, 17, 17, 13.8, 11, 6.8]
B_TOP_FSDEL = [10, 2.8, 0, 0, 6.8, 0, 0, 0, 0.8, 1.7]
B_TOP_NONSENSE = [10, 0.9, 0, 2.3, 0, 0, 0, 1.1, 1.5, 4.2]
B_TOP_FSINS = [0.7, 0, 0, 0, 7, 1, 0, 0, 1.7, 2.3]
B_TOP_INFRAME = [0.6, 0, 1.4, 0, 1.4, 0, 1, 0, 0, 0]
B_TOP_TICKS = [0, 22, 44, 67]

E_TOP_GENES = ["TTN", "CTNNB1", "MUC16", "TP53", "PCLO", "MUC4", "APOB", "ALB", "ABCA13", "AXIN1"]
E_TOP_PCT = ["24%", "23%", "16%", "19%", "12%", "10%", "10%", "10%", "9%", "9%"]
E_TOP_MISSENSE = [50.2, 40.9, 32, 22, 22, 24.2, 10, 10, 17.5, 3.1]
E_TOP_FSDEL = [1.7, 0, 0.7, 6.2, 1.9, 0, 6, 7.7, 0, 3.8]
E_TOP_NONSENSE = [3.1, 0, 3.1, 5.2, 3.1, 0, 0, 0.5, 1, 9.3]
E_TOP_FSINS = [0, 0, 0, 1.7, 0, 0, 4, 0, 0, 1]
E_TOP_INFRAME = [0, 1.7, 0, 1, 0, 0, 1.4, 3.3, 0, 0]
E_TOP_TICKS = [0, 19, 38, 57]

# ---------- titv ----------
TITV_LABELS = ["C>T", "C>A", "T>C", "T>A", "C>G", "T>G"]
TITV_COLOURS = ["#EF6F6A", "#66A9DC", "#FDCF55", "#73C07A", "#6B7BBE", "#FBAE4E"]
TI_TV_LABELS = ["Ti", "Tv"]

C_LOW = [7.8, 6.5, 2.7, 0, 0, 0]
C_Q1 = [23, 17.2, 13.1, 7.5, 6.9, 4.1]
C_MED = [29, 22.6, 17.5, 10.7, 9.6, 6.3]
C_Q3 = [36, 27, 21.3, 14.3, 12.5, 8.5]
C_HIGH = [54.3, 38.9, 32.8, 22.9, 20.5, 15.4]
C_FLIERS = [[58.3, 71.5], [42, 42.5, 46, 50.5, 51.5, 55.5], [0, 34.7, 36.5],
            [25, 26, 27, 28.5, 33.5, 44.8, 56, 59.2, 65.8, 68.3], [21, 21.8, 22.5, 24.2], [15.5, 43]]
C_TT_LOW = [27.9, 31.4]
C_TT_Q1 = [42.8, 46.3]
C_TT_MED = [48, 52]
C_TT_Q3 = [53.7, 57]
C_TT_HIGH = [68.6, 72.1]
C_TT_FLIERS = [[15, 15.2, 18.5, 22, 23.7, 71.5, 72.8, 76.7], [23.3, 27, 27.5, 28.3, 76.2, 77.7, 81.3, 84.8, 85]]

F_LOW = [6.2, 7, 4.3, 0, 0, 0]
F_Q1 = [22.8, 17.5, 13.9, 8, 7, 4.1]
F_MED = [29.4, 21.3, 18.7, 11.4, 9.3, 6.5]
F_Q3 = [35.5, 26.5, 23.1, 15.2, 12.6, 9.3]
F_HIGH = [50.7, 38.4, 36.7, 25.3, 20.7, 17.3]
F_FLIERS = [[58.3, 60.8], [0, 40, 40.8, 41.5, 45.3], [0, 38.2],
            [26, 26.7, 27.5, 28.2, 29, 30.5, 32.7, 35, 37, 39, 40, 41.3, 43.8, 44.5, 45, 45.5],
            [21.5, 22, 22.7, 23.5, 24.3, 25, 36.2], [22]]
F_TT_LOW = [26.3, 28.8]
F_TT_Q1 = [42.3, 46.1]
F_TT_MED = [48.1, 51.6]
F_TT_Q3 = [53.7, 57.7]
F_TT_HIGH = [71.2, 73.5]
F_TT_FLIERS = [[23.7, 74.5, 80, 83.1], [16.8, 20, 25.4, 76.3]]

# stacked sample fractions, running tops of each class
C_TOP_CT = [26, 31, 51, 48, 28, 45, 28, 26, 22, 28, 38, 30, 52, 23, 34, 30, 25, 10, 28, 11,
            29, 20, 28, 15, 39, 25, 23, 38, 20, 40, 18, 45, 39, 32, 42, 27, 32, 47, 29, 39,
            30, 21, 27, 35, 8, 30, 24, 28, 9, 12, 38, 24, 32, 22, 20, 26, 43, 25, 58, 13,
            30, 40, 44, 19, 50, 54, 71, 30, 48, 28, 32, 39, 22, 34, 18, 33, 21, 15, 31, 23,
            35, 38, 30, 45, 20, 27, 39, 45, 19, 25, 38, 23, 37, 46, 23, 34, 24, 33, 37, 32]
C_TOP_CA = [63, 52, 59, 46, 58, 49, 48, 50, 52, 42, 42, 53, 67, 54, 55, 52, 48, 34, 62, 30,
            58, 50, 50, 28, 60, 77, 48, 50, 55, 60, 47, 59, 60, 47, 55, 42, 60, 42, 52, 46,
            48, 47, 52, 57, 17, 53, 44, 48, 27, 22, 53, 42, 50, 47, 48, 46, 56, 33, 62, 50,
            38, 42, 60, 35, 57, 60, 78, 52, 56, 52, 47, 46, 62, 55, 60, 50, 38, 37, 56, 54,
            40, 63, 57, 55, 52, 55, 66, 48, 58, 60, 50, 55, 58, 48, 47, 56, 48, 50, 55, 55]
C_TOP_TC = [79, 75, 84, 63, 75, 66, 70, 66, 69, 64, 65, 68, 74, 67, 72, 66, 64, 34, 78, 64,
            75, 66, 75, 57, 84, 77, 60, 68, 72, 66, 74, 70, 70, 66, 66, 60, 72, 68, 74, 66,
            70, 66, 70, 73, 24, 78, 70, 72, 28, 32, 68, 62, 66, 62, 64, 68, 72, 58, 77, 65,
            64, 72, 75, 58, 72, 78, 80, 68, 72, 70, 65, 65, 72, 65, 74, 64, 60, 56, 70, 66,
            60, 72, 70, 68, 64, 68, 76, 60, 70, 74, 65, 70, 72, 65, 62, 70, 65, 66, 75, 70]
C_TOP_TA = [86, 83, 88, 75, 85, 75, 80, 75, 78, 72, 72, 84, 90, 78, 85, 80, 78, 77, 92, 76,
            87, 80, 85, 70, 88, 84, 72, 78, 80, 74, 82, 85, 80, 78, 78, 74, 82, 80, 84, 78,
            80, 76, 82, 86, 92, 82, 76, 78, 80, 84, 76, 70, 78, 74, 76, 78, 86, 72, 85, 75,
            74, 85, 88, 72, 85, 90, 88, 80, 84, 82, 74, 76, 82, 78, 84, 75, 70, 68, 84, 78,
            72, 85, 83, 80, 78, 82, 86, 64, 84, 85, 72, 78, 84, 72, 72, 80, 76, 74, 84, 78]
C_TOP_CG = [93, 86, 96, 90, 92, 82, 88, 93, 90, 84, 97, 96, 94, 90, 92, 92, 97, 100, 96, 91,
            92, 97, 82, 85, 97, 90, 88, 92, 95, 92, 90, 92, 96, 92, 92, 88, 91, 94, 92, 94,
            90, 93, 96, 88, 93, 96, 94, 89, 96, 93, 92, 88, 96, 86, 96, 90, 97, 95, 97, 96,
            94, 92, 95, 92, 97, 90, 96, 97, 90, 94, 88, 94, 91, 96, 94, 90, 88, 94, 97, 93,
            88, 96, 90, 96, 90, 93, 92, 93, 96, 90, 90, 92, 94, 89, 93, 94, 91, 94, 95, 94]
C_SEPARATORS = [4.8, 11.3, 17.7, 24.2, 30.7, 37.2, 43.7, 50.2, 56.6, 63.1, 69.4, 71.9, 75.9, 78.4, 82.6, 85, 89.1, 91.3, 95.4, 97.6]

F_TOP_CT = [23, 39, 17, 32, 26, 29, 30, 40, 33, 50, 42, 26, 24, 22, 19, 31, 30, 33, 22, 20,
            10, 34, 26, 33, 40, 33, 37, 19, 36, 50, 42, 17, 9, 38, 25, 33, 58, 36, 31, 39,
            32, 17, 43, 15, 30, 28, 25, 16, 35, 20, 29, 38, 13, 22, 41, 28, 15, 18, 26, 24,
            18, 30, 20, 36, 33, 44, 28, 20, 36, 42, 48, 36, 34, 32, 26, 21, 11, 32, 30, 25,
            33, 36, 22, 30, 36, 29, 17, 50, 38, 22, 6, 30, 38, 36, 60, 58, 30, 50, 45, 32]
F_TOP_CA = [49, 51, 57, 53, 44, 60, 62, 58, 52, 52, 50, 44, 52, 54, 50, 48, 50, 44, 52, 38,
            40, 56, 60, 56, 68, 62, 58, 50, 58, 60, 58, 52, 40, 64, 56, 60, 60, 62, 50, 60,
            50, 31, 53, 40, 58, 56, 42, 36, 58, 52, 46, 48, 33, 52, 62, 56, 48, 30, 52, 50,
            38, 44, 50, 58, 62, 60, 50, 40, 58, 58, 48, 56, 52, 54, 42, 38, 32, 48, 50, 44,
            50, 52, 38, 50, 64, 48, 50, 58, 50, 40, 24, 52, 68, 58, 62, 60, 54, 52, 50, 48]
F_TOP_TC = [75, 70, 62, 68, 60, 76, 72, 70, 62, 58, 75, 70, 64, 66, 62, 74, 68, 60, 72, 58,
            66, 75, 76, 74, 80, 82, 72, 65, 74, 76, 70, 70, 54, 80, 72, 74, 74, 78, 64, 76,
            66, 52, 72, 58, 76, 72, 60, 50, 74, 68, 62, 62, 54, 70, 78, 70, 64, 50, 70, 66,
            54, 64, 72, 72, 76, 76, 66, 58, 72, 74, 66, 72, 68, 70, 60, 58, 52, 62, 68, 60,
            68, 70, 56, 66, 78, 64, 70, 74, 66, 50, 46, 66, 82, 70, 80, 68, 72, 70, 68, 66]
F_TOP_TA = [84, 78, 72, 85, 76, 86, 76, 80, 72, 72, 84, 82, 76, 80, 72, 82, 78, 76, 84, 72,
            80, 86, 84, 80, 86, 90, 82, 78, 84, 84, 76, 82, 70, 85, 80, 82, 84, 85, 78, 84,
            76, 62, 80, 70, 82, 80, 74, 62, 82, 78, 74, 76, 70, 82, 88, 82, 78, 66, 80, 76,
            70, 76, 84, 82, 86, 88, 78, 72, 86, 84, 78, 82, 78, 80, 72, 72, 64, 76, 80, 72,
            80, 78, 70, 82, 88, 74, 80, 86, 78, 66, 62, 78, 90, 80, 88, 78, 82, 80, 78, 72]
F_TOP_CG = [91, 88, 97, 90, 88, 85, 93, 95, 88, 96, 92, 97, 93, 90, 82, 90, 97, 98, 94, 88,
            92, 96, 90, 84, 96, 100, 92, 90, 88, 91, 100, 95, 88, 97, 86, 94, 100, 90, 86, 96,
            88, 92, 97, 90, 94, 96, 88, 84, 92, 94, 90, 92, 86, 92, 97, 92, 96, 90, 97, 94,
            92, 96, 90, 88, 95, 100, 90, 95, 94, 92, 84, 90, 96, 94, 88, 90, 92, 86, 97, 90,
            100, 88, 96, 92, 100, 88, 94, 97, 92, 92, 80, 97, 100, 96, 100, 92, 96, 94, 92, 90]
F_SEPARATORS = [1.3, 7.1, 13.1, 19, 24.9, 30.9, 36.9, 42.8, 48.7, 54.6, 60.6, 66.5, 72.4, 78.3, 84.3, 90.4, 96.3]

GRID = dict(color="#DDDDDD", linestyle=":", linewidth=0.8)

fig = plt.figure(figsize=(WIDTH / 100, HEIGHT / 100), dpi=100)
page = fig.add_axes([0, 0, 1, 1])
page.set_xlim(0, WIDTH)
page.set_ylim(HEIGHT, 0)
page.axis("off")


def axes_px(x0, y0, x1, y1):
    return fig.add_axes([x0 / WIDTH, 1 - y1 / HEIGHT, (x1 - x0) / WIDTH, (y1 - y0) / HEIGHT])


def draw_cloud(genes, spans, colours, upright, y_offset, y_scale):
    prop = FontProperties(family="Liberation Sans")
    for gene, (a, b, c), code in zip(genes, spans, colours):
        width10 = TextPath((0, 0), gene, size=10, prop=prop).get_extents().width
        if gene in upright:
            size = 10 * (b - a) / y_scale * 0.72 / width10
            page.text(c / CLOUD_X, y_offset + (a + b) / 2 / y_scale, gene, rotation=90, fontsize=size,
                      color=WORD_COLOURS[code], ha="center", va="center", family="Liberation Sans")
        else:
            size = 10 * (b - a) / CLOUD_X * 0.72 / width10
            page.text((a + b) / 2 / CLOUD_X, y_offset + c / y_scale, gene, fontsize=size,
                      color=WORD_COLOURS[code], ha="center", va="center", family="Liberation Sans")


def style_ticks(labels, size):
    for t in labels:
        t.set_fontstyle("italic")
        t.set_fontsize(size)
        t.set_family(NARROW)
        t.set_color("#222222")


def bar_panel(box, x_max, first, step, values, labels, colours, ticks, grid_start, tick_text=None, notes=None, label_size=7.1):
    x0, y0, x1, y1 = box
    ax = axes_px(x0, y0, x1, y1)
    pos = np.arange(len(values))
    ax.barh(pos, values, height=0.85, color=colours, linewidth=0.6, edgecolor="white", zorder=3)
    ax.set_xlim(0, x_max)
    ax.set_ylim((y1 - first) / step, (y0 - first) / step)
    ax.set_xticks(ticks)
    ax.set_xticklabels(tick_text if tick_text else [str(t) for t in ticks], rotation=90)
    style_ticks(ax.get_xticklabels(), 6.6)
    ax.set_yticks(np.arange(grid_start, len(values), 1 / 1.2))
    ax.set_yticklabels([])
    ax.tick_params(axis="y", length=0)
    ax.tick_params(axis="x", length=4, width=1, pad=3)
    ax.grid(True, **GRID)
    ax.set_axisbelow(True)
    for s in ["top", "left", "right"]:
        ax.spines[s].set_visible(False)
    ax.spines["bottom"].set_linewidth(1.6)
    ax.spines["bottom"].set_bounds(0, ticks[-1])
    trans = ax.get_yaxis_transform()
    for i, lab in enumerate(labels):
        ax.annotate(lab, xy=(0, i), xycoords=trans, xytext=(-3.5, 0), textcoords="offset points",
                    ha="right", va="center", fontsize=label_size, style="italic", family=NARROW, color="#222222")
    if notes:
        for i, (v, note) in enumerate(zip(values, notes)):
            ax.annotate(note, xy=(v, i), xytext=(3.5, 0), textcoords="offset points", ha="left", va="center",
                        fontsize=6.8, style="italic", fontweight="bold", family=NARROW, color="#222222")
    return ax


def samples_panel(box, total, red, blue, ticks, median):
    ax = axes_px(*box)
    pos = np.arange(len(total))
    total = np.array(total)
    red = np.array(red)
    blue = np.array(blue)
    green = total - red - blue
    ax.bar(pos, green, width=1, color="#3FA544", linewidth=0)
    ax.bar(pos, red, width=1, bottom=green, color="#E62B30", linewidth=0)
    ax.bar(pos, blue, width=1, bottom=green + red, color="#2B7DBA", linewidth=0)
    ax.set_xlim(-0.5, len(total) - 0.5)
    ax.set_ylim(0, ticks[-1])
    ax.axhline(median, xmin=0, xmax=0.98, color="#C2185B", linestyle=(0, (4, 3)), linewidth=1.3)
    ax.set_yticks(ticks)
    style_ticks(ax.get_yticklabels(), 7.5)
    ax.tick_params(axis="y", length=5, width=1.1, pad=1.5)
    ax.set_xticks([])
    for s in ["top", "right", "bottom"]:
        ax.spines[s].set_visible(False)
    ax.spines["left"].set_linewidth(1.4)
    return ax


def summary_panel(box, first, step, low, q1, med, q3, high, ticks):
    x0, y0, x1, y1 = box
    ax = axes_px(x0, y0, x1, y1)
    stats = [dict(med=m, q1=a, q3=b, whislo=lo, whishi=hi, fliers=[])
             for lo, a, m, b, hi in zip(low, q1, med, q3, high)]
    pos = np.arange(len(stats))
    parts = ax.bxp(stats, positions=pos, widths=0.84, patch_artist=True, showcaps=False, showfliers=False)
    for i, col in enumerate(SUMMARY_COLOURS):
        parts["boxes"][i].set(facecolor="#D2D2D2" if i == 0 else col, edgecolor=col, linewidth=1.5)
        parts["medians"][i].set(color=col, linewidth=1.8)
        parts["whiskers"][2 * i].set(color=col, linewidth=1.3)
        parts["whiskers"][2 * i + 1].set(color=col, linewidth=1.3)
    ax.set_xlim((x0 - first) / step, (x1 - first) / step)
    ax.set_ylim(-2, ticks[-1] * 1.005)
    ax.set_xticks(pos)
    ax.set_xticklabels([])
    ax.tick_params(axis="x", length=0)
    ax.set_yticks(ticks)
    style_ticks(ax.get_yticklabels(), 7.5)
    ax.tick_params(axis="y", length=5, width=1.1, pad=1.5)
    ax.grid(True, **GRID)
    ax.set_axisbelow(True)
    for s in ["top", "right", "bottom"]:
        ax.spines[s].set_visible(False)
    ax.spines["left"].set_linewidth(1.4)
    ax.spines["left"].set_bounds(0, ticks[-1])
    return ax


def top_panel(box, zero, unit, first, step, genes, pct, parts, ticks):
    x0, y0, x1, y1 = box
    ax = axes_px(x0, y0, x1, y1)
    pos = np.arange(len(genes))
    left = np.zeros(len(genes))
    for seg, col in zip(parts, TOP_COLOURS):
        ax.barh(pos, seg, left=left, height=0.88, color=col, linewidth=0, zorder=3)
        left = left + np.array(seg)
    ax.set_xlim(0, (x1 - zero) / unit)
    ax.set_ylim((y1 - first) / step, (y0 - first) / step)
    ax.set_xticks(ticks)
    ax.set_xticklabels([str(t) for t in ticks], rotation=90)
    style_ticks(ax.get_xticklabels(), 6.6)
    ax.set_yticks(pos)
    ax.set_yticklabels([])
    ax.tick_params(axis="y", length=0)
    ax.tick_params(axis="x", length=4, width=1, pad=3)
    ax.grid(True, **GRID)
    ax.set_axisbelow(True)
    for s in ["top", "left", "right"]:
        ax.spines[s].set_visible(False)
    ax.spines["bottom"].set_linewidth(1.5)
    ax.spines["bottom"].set_bounds(0, ticks[-1])
    trans = ax.get_yaxis_transform()
    for i, gene in enumerate(genes):
        ax.annotate(gene, xy=(0, i), xycoords=trans, xytext=(-5, 0), textcoords="offset points", ha="right",
                    va="center", fontsize=7.6, style="italic", family=NARROW, color="#222222")
        ax.annotate(pct[i], xy=(left[i], i), xytext=(1.5, 0), textcoords="offset points", ha="left",
                    va="center", fontsize=6.6, style="italic", fontweight="bold", family=NARROW, color="#222222")
    return ax


def draw_maftools(ox, oy_top, oy_low, geo, vc, vc_ticks, vt, vt_ticks, snv, totals, reds, blues, sample_ticks, median, med_text,
                  sum_stats, sum_ticks, top_genes, top_pct, top_parts, top_ticks):
    def fx(x):
        return ox + x / MAF_X

    def ty(y):
        return oy_top + y / 3

    def ly(y):
        return oy_low + y / 3

    for x, text in [(378, "Variant Classification"), (828, "Variant Type"), (1238, "SNV Class")]:
        page.text(fx(x - geo["dx"]), ty(geo["title"]), text, fontsize=7.1, fontweight="bold", family=NARROW, color="#222222", va="center")

    bar_panel((fx(geo["vc_x"][0]), ty(geo["top"]), fx(geo["vc_x"][1]), ty(geo["axis"])), vc_ticks[-1], ty(geo["vc_first"]), 76.6 / 3,
              vc, VC_LABELS, VC_COLOURS, vc_ticks, geo["vc_grid"])
    bar_panel((fx(geo["vt_x"][0]), ty(geo["top"]), fx(geo["vt_x"][1]), ty(geo["axis"])), vt_ticks[-1], ty(geo["vt_first"]), 211.5 / 3,
              vt, VT_LABELS, VT_COLOURS, vt_ticks, -0.54)
    fractions = np.array(snv) / np.sum(snv)
    bar_panel((fx(geo["snv_x"][0]), ty(geo["top"]), fx(geo["snv_x"][1]), ty(geo["axis"])), 1, ty(geo["snv_first"]), 103 / 3,
              fractions, SNV_LABELS, SNV_COLOURS, [0, 0.25, 0.5, 0.75, 1], -0.03,
              tick_text=["0.00", "0.25", "0.50", "0.75", "1.00"], notes=[str(v) for v in snv])

    px = geo["low"]
    page.text(fx(px["title_x"]), ly(px["t1"]), "Variants per sample", fontsize=7.3, fontweight="bold", family=NARROW, color="#222222", va="center")
    page.text(fx(px["title_x"]), ly(px["t2"]), med_text, fontsize=5.6, fontweight="bold", family=NARROW, color="#222222", va="center")
    samples_panel((fx(px["s_x"][0]), ly(px["s_y"][0]), fx(px["s_x"][1]), ly(px["s_y"][1])), totals, reds, blues, sample_ticks, median)

    page.text(fx(px["sum_title_x"]), ly(px["t1"] - 14), "Variant Classification\nsummary", fontsize=7.3, fontweight="bold", family=NARROW,
              color="#222222", va="top", linespacing=1.25)
    summary_panel((fx(px["sum_x"]), ly(px["sum_y"][0]), fx(1130), ly(px["sum_y"][1] + 7)), fx(px["sum_first"]), 38.1 / MAF_X, *sum_stats, sum_ticks)

    page.text(fx(px["top_x"]), ly(px["t1"] - 4), "Top 10\nmutated genes", fontsize=7.3, fontweight="bold", family=NARROW,
              color="#222222", va="top", linespacing=1.25)
    top_panel((fx(px["top_x"]), ly(px["top_y0"]), fx(1540), ly(px["top_y1"])), fx(px["top_x"]), px["top_unit"] / MAF_X, ly(px["top_first"]), 49.4 / 3,
              top_genes, top_pct, top_parts, top_ticks)


def titv_box(ax, low, q1, med, q3, high, fliers, colours, labels, whisker):
    stats = [dict(med=m, q1=a, q3=b, whislo=lo, whishi=hi, fliers=fl)
             for lo, a, m, b, hi, fl in zip(low, q1, med, q3, high, fliers)]
    pos = np.arange(len(stats))
    parts = ax.bxp(stats, positions=pos, widths=0.8, patch_artist=True, showcaps=False,
                   flierprops=dict(marker="o", markerfacecolor="#BDBDBD", markeredgecolor="none", markersize=3.6))
    for i, col in enumerate(colours):
        parts["boxes"][i].set(facecolor=col, edgecolor="#8A8A8A", linewidth=1)
        parts["medians"][i].set(color="#111111", linewidth=1.9)
        parts["whiskers"][2 * i].set(color=whisker, linewidth=1.1)
        parts["whiskers"][2 * i + 1].set(color=whisker, linewidth=1.1)
    ax.set_xticks(pos)
    ax.set_xticklabels(labels, fontsize=8.5, color="#333333")
    ax.set_yticks([0, 25, 50, 75, 100])
    ax.set_yticklabels(["0", "25", "50", "75", "100"], fontsize=9.5, color="#333333")
    ax.tick_params(axis="y", length=6, width=1.3, pad=2)
    ax.tick_params(axis="x", length=0, pad=6)
    ax.grid(True, **GRID)
    ax.set_axisbelow(True)
    ax.set_ylim(-2, 104)
    for s in ["top", "right", "bottom"]:
        ax.spines[s].set_visible(False)
    ax.spines["left"].set_linewidth(1.5)
    ax.spines["left"].set_color("#333333")
    ax.spines["left"].set_bounds(0, 100)


def draw_titv(oy_box, y100, y0, main, tt):
    def fx(x):
        return 1300 + x / TITV_X

    unit = (y0 - y100) / 3 / 100
    top = oy_box + y100 / 3 - 4 * unit
    bottom = oy_box + y0 / 3 + 2 * unit
    ax = axes_px(fx(256), top, fx(1095), bottom)
    titv_box(ax, *main, TITV_COLOURS, TITV_LABELS, "#A0A0A0")
    ax.set_xlim((256 - 396) / 128, (1095 - 396) / 128)
    ax2 = axes_px(fx(1188), top, fx(1568), bottom)
    titv_box(ax2, *tt, ["#B0B0B0", "#B0B0B0"], TI_TV_LABELS, "#7F7F7F")
    ax2.set_xlim((1188 - 1318) / 117, (1568 - 1318) / 117)
    page.text(fx(160), oy_box + (y100 + y0) / 6, "% Mutations", rotation=90, fontsize=9.8, ha="center", va="center", color="#222222")


def draw_stack(y100, y0, tops, separators):
    ax = axes_px(1300 + 318 / TITV_X, y100, 1300 + 1552 / TITV_X, y0)
    pos = np.arange(len(tops[0]))
    previous = np.zeros(len(pos))
    for top, col in zip(list(tops) + [np.full(len(pos), 100)], TITV_COLOURS):
        top = np.array(top)
        ax.bar(pos, top - previous, width=1, bottom=previous, color=col, linewidth=0)
        previous = top
    ax.vlines(separators, 0, 100, color="white", linewidth=0.8, alpha=0.5)
    ax.set_xlim(-0.5, len(pos) - 0.5)
    ax.set_ylim(0, 100)
    ax.set_xticks([])
    ax.set_yticks([0, 25, 50, 75, 100])
    ax.set_yticklabels(["0", "25", "50", "75", "100"], fontsize=9.5, color="#333333")
    ax.tick_params(axis="y", length=6, width=1.3, pad=2)
    for s in ["top", "right", "bottom"]:
        ax.spines[s].set_visible(False)
    ax.spines["left"].set_position(("outward", 14))
    ax.spines["left"].set_linewidth(1.5)
    ax.spines["left"].set_color("#333333")
    page.text(1300 + 160 / TITV_X, (y100 + y0) / 2, "% Mutations", rotation=90, fontsize=9.8, ha="center", va="center", color="#222222")


# word clouds
draw_cloud(CLOUD_A_GENES, CLOUD_A_SPANS, CLOUD_A_COLOURS, CLOUD_A_UPRIGHT, 0, 2.92)
draw_cloud(CLOUD_D_GENES, CLOUD_D_SPANS, CLOUD_D_COLOURS, CLOUD_D_UPRIGHT, 550, 2.95)

# panel B
geo_b = dict(title=36, dx=0, vc_x=(378, 720), vt_x=(828, 1130), snv_x=(1238, 1540), top=85, axis=735,
             vc_first=143, vt_first=200, snv_first=153, vc_grid=-0.53,
             low=dict(title_x=189, t1=57, t2=93, s_x=(208, 702), s_y=(138, 655), sum_title_x=803, sum_x=803,
                      sum_y=(150, 641), sum_first=833, top_x=1265, top_y0=140, top_y1=660, top_unit=3.55, top_first=176))
draw_maftools(610, 0, 270, geo_b, B_VC, B_VC_TICKS, B_VT, B_VT_TICKS, B_SNV, B_SAMPLE_TOTAL, B_SAMPLE_RED, B_SAMPLE_BLUE,
              [0, 153, 307, 461], 69, "Median: 69", (B_SUM_LOW, B_SUM_Q1, B_SUM_MED, B_SUM_Q3, B_SUM_HIGH), [0, 48, 96, 144],
              B_TOP_GENES, B_TOP_PCT, (B_TOP_MISSENSE, B_TOP_FSDEL, B_TOP_NONSENSE, B_TOP_FSINS, B_TOP_INFRAME), B_TOP_TICKS)

# panel E
geo_e = dict(title=59, dx=2, vc_x=(376, 719), vt_x=(827, 1128), snv_x=(1236, 1538), top=108, axis=758,
             vc_first=166, vt_first=223, snv_first=177, vc_grid=-0.53,
             low=dict(title_x=188, t1=50, t2=87, s_x=(207, 700), s_y=(130, 650), sum_title_x=801, sum_x=801,
                      sum_y=(143, 634), sum_first=831, top_x=1263, top_y0=130, top_y1=655, top_unit=4.18, top_first=170))
draw_maftools(610, 550, 830, geo_e, E_VC, E_VC_TICKS, E_VT, E_VT_TICKS, E_SNV, E_SAMPLE_TOTAL, E_SAMPLE_RED, E_SAMPLE_BLUE,
              [0, 400, 800, 1200], 70, "Median: 70", (E_SUM_LOW, E_SUM_Q1, E_SUM_MED, E_SUM_Q3, E_SUM_HIGH), [0, 46, 92, 138],
              E_TOP_GENES, E_TOP_PCT, (E_TOP_MISSENSE, E_TOP_FSDEL, E_TOP_NONSENSE, E_TOP_FSINS, E_TOP_INFRAME), E_TOP_TICKS)

# panels C and F
draw_titv(0, 67, 723, (C_LOW, C_Q1, C_MED, C_Q3, C_HIGH, C_FLIERS), (C_TT_LOW, C_TT_Q1, C_TT_MED, C_TT_Q3, C_TT_HIGH, C_TT_FLIERS))
draw_titv(550, 84, 741, (F_LOW, F_Q1, F_MED, F_Q3, F_HIGH, F_FLIERS), (F_TT_LOW, F_TT_Q1, F_TT_MED, F_TT_Q3, F_TT_HIGH, F_TT_FLIERS))
draw_stack(270 + 72 / 3, 270 + 642 / 3, (C_TOP_CT, C_TOP_CA, C_TOP_TC, C_TOP_TA, C_TOP_CG), C_SEPARATORS)
draw_stack(830 + 60 / 3, 830 + 631 / 3, (F_TOP_CT, F_TOP_CA, F_TOP_TC, F_TOP_TA, F_TOP_CG), F_SEPARATORS)

# panel letters
for letter, x, y in [("A", 2, 34), ("B", 622, 32), ("C", 1308, 34), ("D", 1, 577), ("E", 628, 573), ("F", 1318, 575)]:
    page.text(x, y, letter, fontsize=30, family=["Lato", "Liberation Sans"], fontweight=300, color="#111111", va="baseline")

fig.savefig("out.png", dpi=100)
